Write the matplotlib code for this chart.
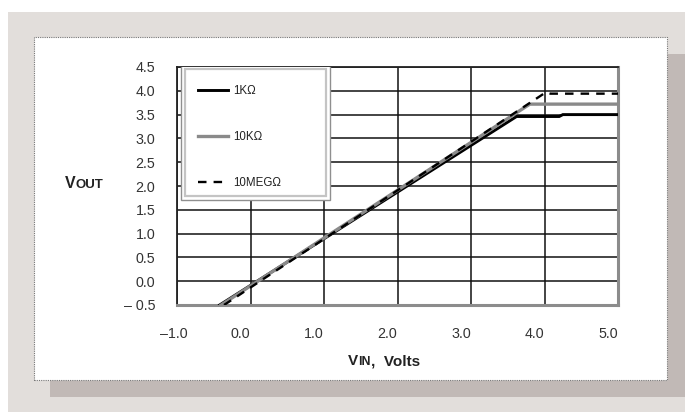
import matplotlib
matplotlib.use("Agg")
import matplotlib.pyplot as plt
from matplotlib.patches import Rectangle
from matplotlib.transforms import ScaledTranslation

plt.rcParams['font.family'] = ['Liberation Sans', 'DejaVu Sans']

# Output voltage vs input voltage for three load resistances
vin_1k = [-0.42, 3.62, 4.20, 4.25, 5.00]
vout_1k = [-0.50, 3.46, 3.46, 3.50, 3.50]

vin_10k = [-0.40, 3.80, 5.00]
vout_10k = [-0.50, 3.72, 3.72]

vin_10meg = [-0.36, 4.02, 4.08, 5.00]
vout_10meg = [-0.50, 3.97, 3.94, 3.94]

series_labels = ['1KΩ', '10KΩ', '10MEGΩ']
x_ticks = [-1.0, 0.0, 1.0, 2.0, 3.0, 4.0, 5.0]
y_ticks = [-0.5, 0.0, 0.5, 1.0, 1.5, 2.0, 2.5, 3.0, 3.5, 4.0, 4.5]

W, H = 685, 412
fig = plt.figure(figsize=(W / 100, H / 100), dpi=100, facecolor='white')


def box(x0, y0, x1, y1):
    """Pixel box (top-left origin) to figure-fraction rectangle."""
    return (x0 / W, 1 - y1 / H), (x1 - x0) / W, (y1 - y0) / H


# page background, drop shadow and dotted white panel
for (xy, w, h), fc, ec, ls in [
    (box(8, 12, 685, 412), '#e2dedb', 'none', '-'),
    (box(50, 54, 685, 397), '#c1b9b6', 'none', '-'),
    (box(34, 37, 667, 380), 'white', '#777777', (0, (1, 1))),
]:
    fig.add_artist(Rectangle(xy, w, h, transform=fig.transFigure,
                             facecolor=fc, edgecolor=ec, lw=0.8,
                             linestyle=ls, zorder=0))

(ax_x, ax_y), ax_w, ax_h = box(177, 67, 618, 305)
ax = fig.add_axes([ax_x, ax_y, ax_w, ax_h])
ax.set_facecolor('white')
ax.set_zorder(1)

ax.plot(vin_1k, vout_1k, color='black', lw=2.1, zorder=3,
        solid_joinstyle='miter', label=series_labels[0])
ax.plot(vin_10k, vout_10k, color='#8a8a8a', lw=2.4, zorder=3.1,
        label=series_labels[1])
ax.plot(vin_10meg, vout_10meg, color='black', lw=1.7, zorder=3.2,
        linestyle=(0, (3.6, 3.0)), label=series_labels[2])

ax.set_xlim(-1.0, 5.0)
ax.set_ylim(-0.5, 4.5)
ax.set_xticks(x_ticks)
ax.set_yticks(y_ticks)
ax.set_xticklabels([f'{v:.1f}'.replace('-', '\u2013') for v in x_ticks])
ax.set_yticklabels([f'{v:.1f}'.replace('-', '\u2013 ') for v in y_ticks])
ax.grid(True, color='#111111', lw=1.1, zorder=1)
ax.set_axisbelow(True)
ax.tick_params(length=0, labelsize=10.3, labelcolor='#333333')
ax.tick_params(axis='x', pad=16)
ax.tick_params(axis='y', pad=15.5)

# x tick labels sit slightly left of their gridlines
for i, lab in enumerate(ax.get_xticklabels()):
    dx = -3 if i == 0 else -10
    lab.set_transform(lab.get_transform() + ScaledTranslation(dx / 100, 0, fig.dpi_scale_trans))

for side in ('left', 'top'):
    ax.spines[side].set_color('#222222')
    ax.spines[side].set_linewidth(1.3)
for side in ('right', 'bottom'):
    ax.spines[side].set_color('#8c8c8c')
    ax.spines[side].set_linewidth(2.2)

# legend panel with a double grey border
lx0, lx1 = (181 - 177) / 441, (330 - 177) / 441
ly0, ly1 = (305 - 200) / 238, (305 - 65) / 238
ax.add_patch(Rectangle((lx0, ly0), lx1 - lx0, ly1 - ly0, transform=ax.transAxes,
                       facecolor='white', edgecolor='#8f8f8f', lw=1.0, zorder=4))
ix, iy = 4 / 441, 4 / 238
ax.add_patch(Rectangle((lx0 + ix, ly0 + iy), lx1 - lx0 - 2 * ix, ly1 - ly0 - 2 * iy,
                       transform=ax.transAxes, facecolor='none',
                       edgecolor='#c4c4c4', lw=1.6, zorder=4))
leg = ax.legend(loc='upper left', bbox_to_anchor=((198 - 177) / 441, (305 - 85) / 238),
                frameon=False, fontsize=8.3, handlelength=2.6, handletextpad=0.45,
                labelspacing=2.95, borderaxespad=0, borderpad=0)
leg.set_zorder(5)
for t in leg.get_texts():
    t.set_color('#222222')

# axis titles with small-caps subscripts
t1 = fig.text(65 / W, 1 - 183 / H, 'V', fontsize=11.5, fontweight='bold',
              color='#222222', va='center', ha='left')
ax.annotate('OUT', xy=(1, 0), xycoords=t1, xytext=(0, 0), textcoords='offset points',
            fontsize=9.5, fontweight='bold', color='#222222', va='bottom', ha='left',
            annotation_clip=False)

t2 = fig.text(348 / W, 1 - 361 / H, 'V', fontsize=11, fontweight='bold',
              color='#222222', va='center', ha='left')
t3 = ax.annotate('IN', xy=(1, 0), xycoords=t2, xytext=(0, 0), textcoords='offset points',
                 fontsize=8.8, fontweight='bold', color='#222222', va='bottom', ha='left',
                 annotation_clip=False)
ax.annotate(',  Volts', xy=(1, 0), xycoords=t3, xytext=(0, 0), textcoords='offset points',
            fontsize=11, fontweight='bold', color='#222222', va='bottom', ha='left',
            annotation_clip=False)

fig.savefig('out.png', dpi=100, facecolor=fig.get_facecolor())
